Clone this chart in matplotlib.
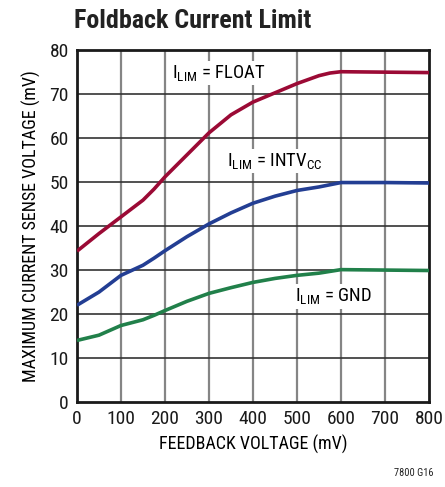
import matplotlib
matplotlib.use("Agg")
import matplotlib.pyplot as plt
from matplotlib.ticker import MultipleLocator

FAM = ['Roboto Condensed', 'Archivo Narrow', 'Liberation Sans', 'DejaVu Sans']
plt.rcParams['font.family'] = FAM
plt.rcParams['mathtext.fontset'] = 'custom'
plt.rcParams['mathtext.rm'] = 'Roboto Condensed'

x_mv = [0, 50, 100, 150, 175, 200, 250, 300, 350, 400, 450, 500, 550, 575, 600, 700, 800]
float_mv = [34.3, 38.3, 42.1, 45.9, 48.4, 51.2, 56.2, 61.2, 65.3, 68.2, 70.3, 72.4, 74.2, 74.8, 75.1, 75.0, 74.9]
intvcc_mv = [22.0, 25.0, 28.8, 31.1, 32.7, 34.4, 37.6, 40.5, 43.0, 45.2, 46.8, 48.1, 48.9, 49.4, 49.9, 49.9, 49.8]
gnd_mv = [14.0, 15.2, 17.4, 18.7, 19.7, 20.8, 22.9, 24.7, 26.0, 27.2, 28.1, 28.8, 29.3, 29.7, 30.1, 30.0, 29.9]

fig = plt.figure(figsize=(4.45, 4.87), dpi=100)
ax = fig.add_axes([0.173, 0.1745, 0.791, 0.7225])

ax.set_xlim(0, 800)
ax.set_ylim(0, 80)
ax.xaxis.set_major_locator(MultipleLocator(100))
ax.yaxis.set_major_locator(MultipleLocator(10))

for xv in range(100, 800, 100):
    ax.axvline(xv, color='#858585', lw=1.6, zorder=1)
for yv in range(10, 80, 10):
    ax.axhline(yv, color='#333333', lw=1.2, zorder=1)

kw = dict(lw=2.6, zorder=3, solid_joinstyle='round', solid_capstyle='butt')
ax.plot(x_mv, float_mv, color='#9B0A35', **kw)
ax.plot(x_mv, intvcc_mv, color='#233E93', **kw)
ax.plot(x_mv, gnd_mv, color='#21804A', **kw)

bbox = dict(facecolor='white', edgecolor='none', pad=1.5)
ax.text(215, 74.8, r'$\mathregular{I_{LIM}}$ = FLOAT', fontsize=13.5, va='center', ha='left', bbox=bbox, zorder=2)
ax.text(342, 54.8, r'$\mathregular{I_{LIM}}$ = INTV$\mathregular{_{CC}}$', fontsize=13.5, va='center', ha='left', bbox=bbox, zorder=2)
ax.text(495, 24, r'$\mathregular{I_{LIM}}$ = GND', fontsize=13.5, va='center', ha='left', bbox=bbox, zorder=2)

for s in ax.spines.values():
    s.set_linewidth(2)
    s.set_color('#1a1a1a')
ax.tick_params(length=0, labelsize=14, pad=6, colors='#1a1a1a')

ax.set_xlabel('FEEDBACK VOLTAGE (mV)', fontsize=13, labelpad=5)
ax.set_ylabel('MAXIMUM CURRENT SENSE VOLTAGE (mV)', fontsize=13, labelpad=6)

fig.text(0.166, 0.957, 'Foldback Current Limit', fontsize=18.7, fontweight='bold', ha='left', va='center', color='#222222')
fig.text(0.975, 0.018, '7800 G16', fontsize=7.5, ha='right', va='bottom', color='#222222')

fig.savefig('out.png', dpi=100)
